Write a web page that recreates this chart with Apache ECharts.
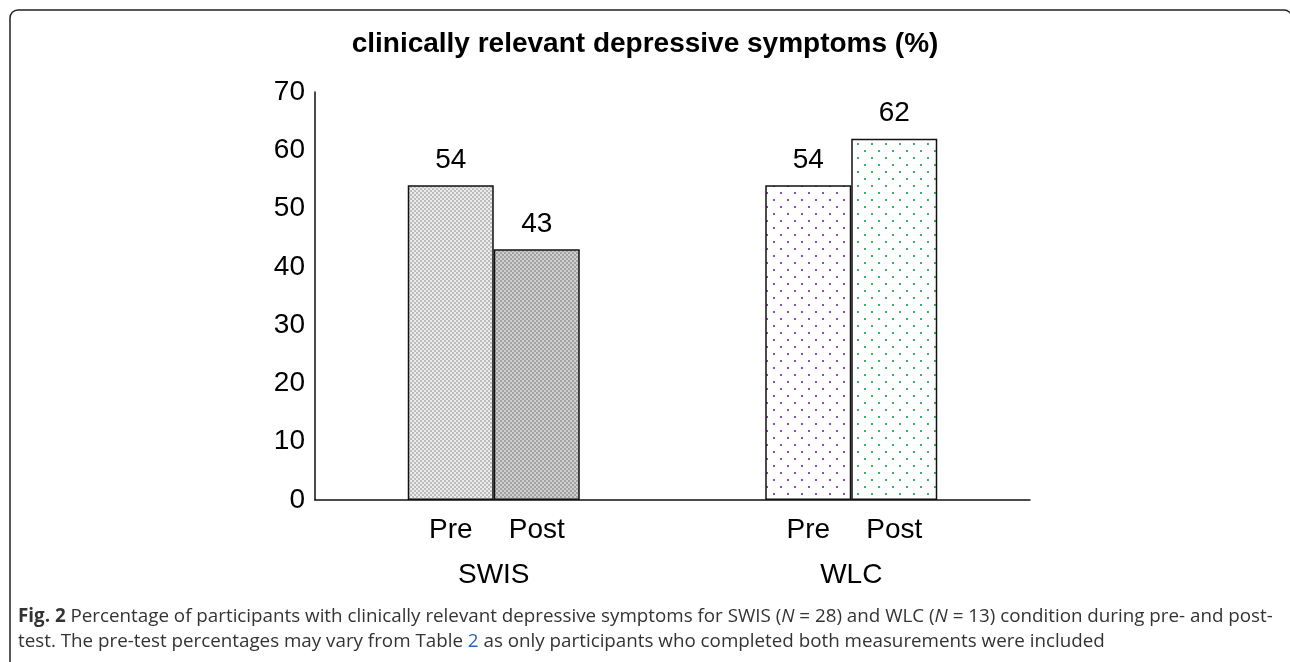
<!DOCTYPE html>
<html>
<head>
<meta charset="utf-8">
<script src="https://cdn.jsdelivr.net/npm/echarts@6/dist/echarts.min.js"></script>
<style>
html,body{margin:0;padding:0;background:#fff;}
#c{width:1290px;height:662px;}
</style>
</head>
<body>
<div id="c"></div>
<script>
// ---- data ----
var groups = ['SWIS', 'WLC'];
var phases = ['Pre', 'Post'];
var preValues = [54, 54];
var postValues = [43, 62];
var yTicks = [0, 10, 20, 30, 40, 50, 60, 70];
var titleText = 'clinically relevant depressive symptoms (%)';

function checker(base, dot) {
  var c = document.createElement('canvas');
  c.width = 4; c.height = 4;
  var g = c.getContext('2d');
  g.fillStyle = base; g.fillRect(0, 0, 4, 4);
  g.fillStyle = dot;
  g.fillRect(0, 0, 2, 2); g.fillRect(2, 2, 2, 2);
  return {image: c, repeat: 'repeat'};
}
function dots(col) {
  var c = document.createElement('canvas');
  c.width = 14; c.height = 14;
  var g = c.getContext('2d');
  g.fillStyle = '#ffffff'; g.fillRect(0, 0, 14, 14);
  g.fillStyle = col;
  g.fillRect(3, 3, 2, 2); g.fillRect(10, 10, 2, 2);
  return {image: c, repeat: 'repeat'};
}
var fills = {
  SWIS: [checker('#ececec', '#bcbcbc'), checker('#cfcfcf', '#a2a2a2')],
  WLC: [dots('#8a4cc0'), dots('#2fb865')]
};

function items(vals, idx) {
  return vals.map(function (v, i) {
    return {value: v, itemStyle: {color: fills[groups[i]][idx], borderColor: '#111', borderWidth: 1.5}};
  });
}

var FONT = 'Liberation Sans, Arial';
var chart = echarts.init(document.getElementById('c'), null, {renderer: 'canvas'});
var labelStyle = {show: true, position: 'top', distance: 11, color: '#000', fontSize: 28, fontFamily: FONT};
chart.setOption({
  animation: false,
  backgroundColor: '#fff',
  title: {
    text: titleText, left: 'center', top: 25,
    textStyle: {fontFamily: FONT, fontWeight: 'bold', fontSize: 28, color: '#000'}
  },
  grid: {left: 315, right: 260, top: 92, bottom: 162},
  xAxis: {
    type: 'category', data: groups,
    axisLine: {lineStyle: {color: '#111', width: 1.5}},
    axisTick: {show: false},
    axisLabel: {
      margin: 15, interval: 0,
      formatter: function (v) { return '{p|' + phases[0] + '}{p|' + phases[1] + '}\n{g|' + v + '}'; },
      rich: {
        p: {width: 86, align: 'center', fontSize: 28, lineHeight: 30, color: '#000', fontFamily: FONT},
        g: {fontSize: 28, lineHeight: 60, color: '#000', fontFamily: FONT}
      }
    }
  },
  yAxis: {
    type: 'value', min: yTicks[0], max: yTicks[yTicks.length - 1], interval: yTicks[1] - yTicks[0],
    axisLine: {show: true, lineStyle: {color: '#111', width: 1.5}},
    axisTick: {show: false},
    splitLine: {show: false},
    axisLabel: {margin: 10, fontSize: 28, color: '#000', fontFamily: FONT}
  },
  series: [
    {name: phases[0], type: 'bar', data: items(preValues, 0), barWidth: 86, barGap: '0%', label: labelStyle},
    {name: phases[1], type: 'bar', data: items(postValues, 1), barWidth: 86, barGap: '0%', label: labelStyle}
  ],
  graphic: [
    {type: 'rect', shape: {x: 10, y: 10, width: 1282, height: 660, r: 8}, style: {fill: 'none', stroke: '#222', lineWidth: 1.5}, silent: true},
    {type: 'text', left: 18, top: 604, style: {
      text: '{b|Fig. 2} Percentage of participants with clinically relevant depressive symptoms for SWIS ({i|N} = 28) and WLC ({i|N} = 13) condition during pre- and post-\ntest. The pre-test percentages may vary from Table {l|2} as only participants who completed both measurements were included',
      fontFamily: 'Open Sans', fontSize: 18.8, lineHeight: 25, fill: '#333',
      rich: {
        b: {fontFamily: 'Open Sans', fontWeight: 'bold', fontSize: 18.8, fill: '#333', color: '#333'},
        i: {fontFamily: 'Open Sans', fontStyle: 'italic', fontSize: 18.8, fill: '#333', color: '#333'},
        l: {fontFamily: 'Open Sans', fontSize: 18.8, fill: '#2a63c4', color: '#2a63c4'}
      }
    }}
  ]
});
</script>
</body>
</html>
